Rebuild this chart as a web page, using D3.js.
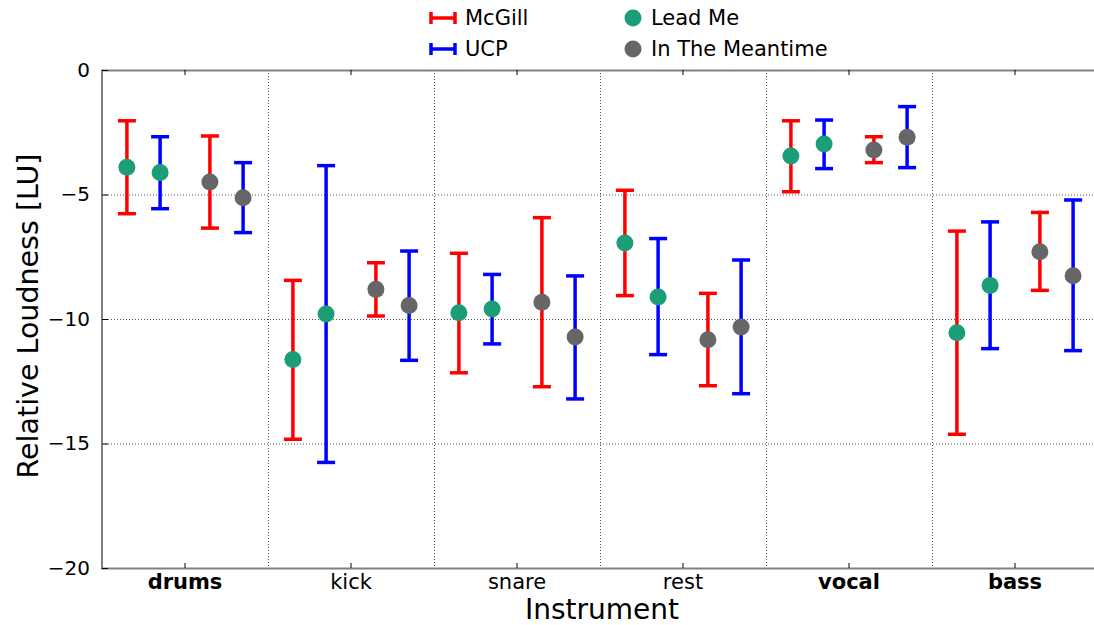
<!DOCTYPE html>
<html>
<head>
<meta charset="utf-8">
<script src="https://cdn.jsdelivr.net/npm/d3@7"></script>
<style>
  body { margin: 0; background: #fff; }
  text { font-family: "DejaVu Sans", sans-serif; }
</style>
</head>
<body>
<svg width="1094" height="625"></svg>
<script>
// instruments (bold ones are the stem groups)
var categories = ["drums", "kick", "snare", "rest", "vocal", "bass"];
var boldCats = ["drums", "vocal", "bass"];
var yTicks = [0, -5, -10, -15, -20];

// Lead Me, McGill listeners
var lmMcgMean = [-3.91, -11.63, -9.75, -6.95, -3.45, -10.55];
var lmMcgLo   = [-5.77, -14.83, -12.16, -9.06, -4.89, -14.63];
var lmMcgHi   = [-2.04, -8.45, -7.36, -4.83, -2.04, -6.47];
// Lead Me, UCP listeners
var lmUcpMean = [-4.12, -9.80, -9.60, -9.12, -2.97, -8.65];
var lmUcpLo   = [-5.57, -15.76, -11.00, -11.43, -3.96, -11.19];
var lmUcpHi   = [-2.68, -3.84, -8.21, -6.77, -2.01, -6.10];
// In The Meantime, McGill
var mtMcgMean = [-4.50, -8.81, -9.33, -10.83, -3.21, -7.30];
var mtMcgLo   = [-6.35, -9.88, -12.72, -12.68, -3.72, -8.85];
var mtMcgHi   = [-2.65, -7.74, -5.93, -8.97, -2.68, -5.72];
// In The Meantime, UCP
var mtUcpMean = [-5.13, -9.46, -10.72, -10.32, -2.70, -8.26];
var mtUcpLo   = [-6.53, -11.66, -13.21, -13.00, -3.92, -11.27];
var mtUcpHi   = [-3.72, -7.27, -8.27, -7.63, -1.47, -5.22];

var svg = d3.select("svg"),
    width = +svg.attr("width"),
    height = +svg.attr("height");

// note: "top" is taken by window.top, so use pl/pr/pt/pb
var pl = 102, pr = 1098, pt = 70, pb = 568;

var x = d3.scaleBand().domain(categories).range([pl, pr]).padding(0);
var y = d3.scaleLinear().domain([-20, 0]).range([pb, pt]);

var barColor = { McGill: "#ff0000", UCP: "#0000ff" };
var dotColor = { "Lead Me": "#1b9e77", "In The Meantime": "#666666" };

var series = [
  { song: "Lead Me", set: "McGill", off: 0.15, mean: lmMcgMean, lo: lmMcgLo, hi: lmMcgHi },
  { song: "Lead Me", set: "UCP", off: 0.35, mean: lmUcpMean, lo: lmUcpLo, hi: lmUcpHi },
  { song: "In The Meantime", set: "McGill", off: 0.65, mean: mtMcgMean, lo: mtMcgLo, hi: mtMcgHi },
  { song: "In The Meantime", set: "UCP", off: 0.85, mean: mtUcpMean, lo: mtUcpLo, hi: mtUcpHi }
];

var pts = [];
series.forEach(function(s) {
  categories.forEach(function(c, i) {
    pts.push({ song: s.song, set: s.set, cx: x(c) + x.bandwidth() * s.off,
               mean: s.mean[i], lo: s.lo[i], hi: s.hi[i] });
  });
});

// grid
var grid = svg.append("g").attr("stroke", "#555").attr("stroke-width", 1)
  .attr("stroke-dasharray", "1,2");
grid.selectAll("line.h").data(yTicks.filter(function(t) { return t > -20 && t < 0; }))
  .enter().append("line")
  .attr("x1", pl).attr("x2", pr)
  .attr("y1", function(d) { return y(d) + 0.5; })
  .attr("y2", function(d) { return y(d) + 0.5; });
grid.selectAll("line.v").data(categories.slice(1))
  .enter().append("line")
  .attr("x1", function(d) { return x(d) + 0.5; })
  .attr("x2", function(d) { return x(d) + 0.5; })
  .attr("y1", pt).attr("y2", pb);

// frame
svg.append("rect")
  .attr("x", pl).attr("y", pt + 0.5)
  .attr("width", pr - pl).attr("height", pb - pt)
  .attr("fill", "none").attr("stroke", "#808080").attr("stroke-width", 2);

// y axis
var yAxis = d3.axisLeft(y).tickValues(yTicks).tickSize(-6).tickPadding(12)
  .tickFormat(function(d) { return d === 0 ? "0" : "\u2212" + Math.abs(d); });
var gy = svg.append("g").attr("transform", "translate(" + pl + ",0)").call(yAxis);
gy.select(".domain").remove();
gy.selectAll(".tick line").attr("stroke", "#000");
gy.selectAll("text").attr("font-size", 20).attr("fill", "#000");

// x axis with inward ticks top and bottom
var xAxis = d3.axisBottom(x).tickSize(-5).tickPadding(6);
var gx = svg.append("g").attr("transform", "translate(0," + pb + ")").call(xAxis);
gx.select(".domain").remove();
gx.selectAll(".tick line").attr("stroke", "#000");
gx.selectAll("text").attr("font-size", 21).attr("fill", "#000")
  .attr("font-weight", function(d) { return boldCats.indexOf(d) >= 0 ? "bold" : "normal"; });
var gxt = svg.append("g").attr("transform", "translate(0," + pt + ")")
  .call(d3.axisTop(x).tickSize(-5).tickFormat(""));
gxt.select(".domain").remove();
gxt.selectAll(".tick line").attr("stroke", "#000");

// error bars
var eb = svg.append("g").selectAll("g").data(pts).enter().append("g")
  .attr("stroke", function(d) { return barColor[d.set]; })
  .attr("stroke-width", 3.5);
eb.append("line")
  .attr("x1", function(d) { return d.cx; }).attr("x2", function(d) { return d.cx; })
  .attr("y1", function(d) { return y(d.lo); }).attr("y2", function(d) { return y(d.hi); });
eb.append("line")
  .attr("x1", function(d) { return d.cx - 9; }).attr("x2", function(d) { return d.cx + 9; })
  .attr("y1", function(d) { return y(d.lo); }).attr("y2", function(d) { return y(d.lo); });
eb.append("line")
  .attr("x1", function(d) { return d.cx - 9; }).attr("x2", function(d) { return d.cx + 9; })
  .attr("y1", function(d) { return y(d.hi); }).attr("y2", function(d) { return y(d.hi); });

svg.append("g").selectAll("circle").data(pts).enter().append("circle")
  .attr("cx", function(d) { return d.cx; })
  .attr("cy", function(d) { return y(d.mean); })
  .attr("r", 8.5)
  .attr("fill", function(d) { return dotColor[d.song]; });

// axis labels
svg.append("text").attr("x", 602).attr("y", 619)
  .attr("text-anchor", "middle").attr("font-size", 28).text("Instrument");
svg.append("text").attr("transform", "translate(38," + ((pt + pb) / 2 - 3) + ") rotate(-90)")
  .attr("text-anchor", "middle").attr("font-size", 28.5).text("Relative Loudness [LU]");

// legend
var leg = svg.append("g");
["McGill", "UCP"].forEach(function(k, i) {
  var g = leg.append("g").attr("transform", "translate(443," + (18 + i * 31) + ")")
    .attr("stroke", barColor[k]).attr("stroke-width", 3.5);
  g.append("line").attr("x1", -12).attr("x2", 12);
  g.append("line").attr("x1", -12).attr("x2", -12).attr("y1", -6).attr("y2", 6);
  g.append("line").attr("x1", 12).attr("x2", 12).attr("y1", -6).attr("y2", 6);
  leg.append("text").attr("x", 465).attr("y", 18 + i * 31).attr("dy", "0.35em")
    .attr("font-size", 21).text(k);
});
["Lead Me", "In The Meantime"].forEach(function(k, i) {
  leg.append("circle").attr("cx", 633).attr("cy", 18 + i * 31).attr("r", 8.5)
    .attr("fill", dotColor[k]);
  leg.append("text").attr("x", 651).attr("y", 18 + i * 31).attr("dy", "0.35em")
    .attr("font-size", 21).text(k);
});
</script>
</body>
</html>
